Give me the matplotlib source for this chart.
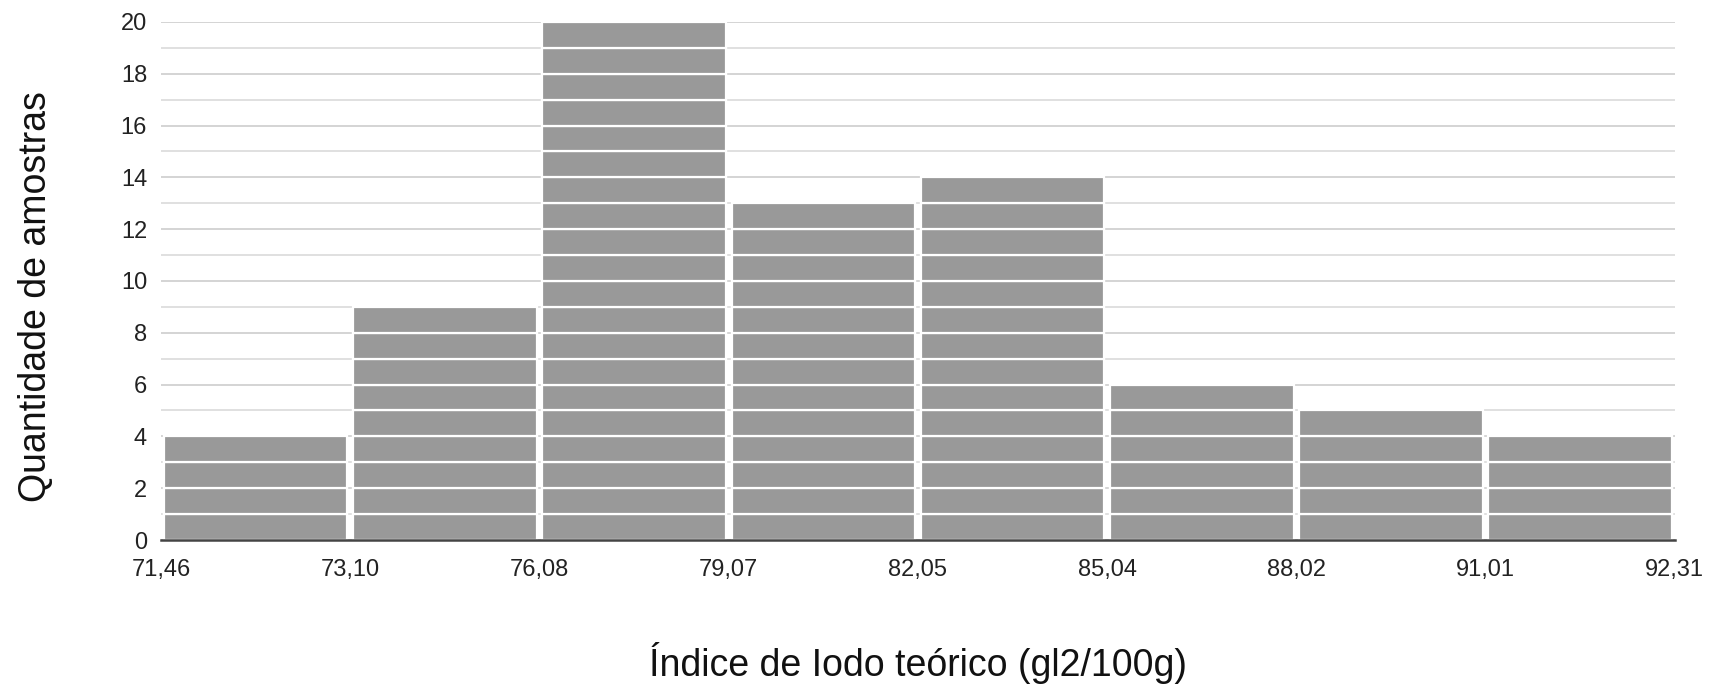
import numpy as np
import matplotlib.pyplot as plt

plt.rcParams['font.family'] = ['Liberation Sans', 'DejaVu Sans']

bin_edges = ['71,46', '73,10', '76,08', '79,07', '82,05', '85,04', '88,02', '91,01', '92,31']
counts = np.array([4, 9, 20, 13, 14, 6, 5, 4])

fig = plt.figure(figsize=(17.09, 6.84), dpi=100)
ax = fig.add_axes([0.0942, 0.2105, 0.8858, 0.7575])

x = np.arange(len(counts)) + 0.5

# stacked one-unit blocks, like the sheets histogram
for k in range(counts.max()):
    m = counts > k
    ax.bar(x[m], 1, bottom=k, width=0.97, color='#999999', edgecolor='white',
           linewidth=1.6, zorder=2)

ax.set_xlim(0, len(counts))
ax.set_ylim(0, 20)
ax.set_xticks(np.arange(len(bin_edges)))
ax.set_xticklabels(bin_edges)
ax.set_yticks(np.arange(0, 21, 2))
ax.set_yticks(np.arange(1, 20, 2), minor=True)

ax.grid(axis='y', which='major', color='#d4d4d4', linewidth=1.4, zorder=0)
ax.grid(axis='y', which='minor', color='#e0e0e0', linewidth=1.4, zorder=0)
ax.set_axisbelow(True)

for s in ['top', 'right', 'left']:
    ax.spines[s].set_visible(False)
ax.spines['bottom'].set_color('#444444')
ax.spines['bottom'].set_linewidth(1.8)
ax.spines['bottom'].set_zorder(3)

ax.tick_params(axis='both', which='both', length=0, labelsize=17, colors='#222222')
ax.tick_params(axis='x', pad=14)
ax.tick_params(axis='y', pad=10)

fig.text(0.537, 0.031, 'Índice de Iodo teórico (gl2/100g)', fontsize=27,
         color='#111111', ha='center', va='center')
fig.text(0.021, 0.566, 'Quantidade de amostras', fontsize=27, color='#111111',
         ha='center', va='center', rotation=90)

fig.savefig('out.png', dpi=100)
